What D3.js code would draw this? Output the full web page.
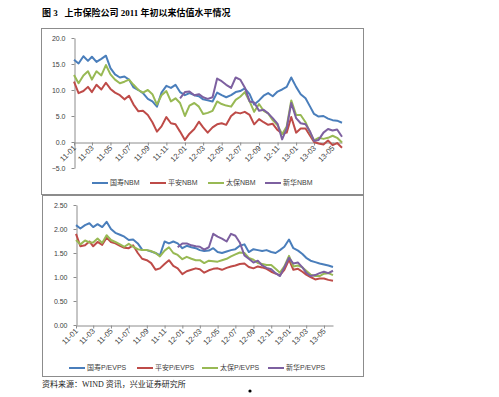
<!DOCTYPE html>
<html>
<head>
<meta charset="utf-8">
<script src="https://cdn.jsdelivr.net/npm/d3@7"></script>
<style>
  body { margin: 0; background: #fff; }
  svg { display: block; }
</style>
</head>
<body>
<svg id="chart" width="499" height="397"></svg>
<script>

// semi-monthly observation dates
const DATES = [
  "2011-01-01","2011-01-16","2011-02-01","2011-02-16","2011-03-01","2011-03-16","2011-04-01","2011-04-16",
  "2011-05-01","2011-05-16","2011-06-01","2011-06-16","2011-07-01","2011-07-16","2011-08-01","2011-08-16",
  "2011-09-01","2011-09-16","2011-10-01","2011-10-16","2011-11-01","2011-11-16","2011-12-01","2011-12-16",
  "2012-01-01","2012-01-16","2012-02-01","2012-02-16","2012-03-01","2012-03-16","2012-04-01","2012-04-16",
  "2012-05-01","2012-05-16","2012-06-01","2012-06-16","2012-07-01","2012-07-16","2012-08-01","2012-08-16",
  "2012-09-01","2012-09-16","2012-10-01","2012-10-16","2012-11-01","2012-11-16","2012-12-01","2012-12-16",
  "2013-01-01","2013-01-16","2013-02-01","2013-02-16","2013-03-01","2013-03-16","2013-04-01","2013-04-16",
  "2013-05-01","2013-05-16","2013-06-01"
];

const NBM_NAMES = ["国寿NBM", "平安NBM", "太保NBM", "新华NBM"];
const PEV_NAMES = ["国寿P/EVPS", "平安P/EVPS", "太保P/EVPS", "新华P/EVPS"];

const NBM_TICKS = [-5, 0, 5, 10, 15, 20];
const PEV_TICKS = [0, 0.5, 1, 1.5, 2, 2.5];

// 新华 listed mid-Dec 2011 -> no values before
const _ = null;

const NBM_GUOSHOU = [15.8,15.1,16.5,15.6,16.4,15.4,16.0,16.6,14.2,13.0,
  12.4,12.6,12.0,10.5,10.0,9.4,8.3,7.8,6.8,9.5,
  10.8,10.4,11.0,9.6,9.0,9.4,9.0,8.8,8.2,8.0,
  7.8,9.5,9.0,8.6,9.0,9.6,9.8,10.3,9.2,7.2,
  8.0,8.9,9.4,8.8,9.7,10.1,10.6,12.4,10.6,9.2,
  8.4,6.8,5.4,4.9,5.0,4.5,4.2,4.1,3.7];
const NBM_PINGAN = [11.6,9.4,9.8,10.6,9.6,11.0,10.1,11.4,10.2,9.5,
  9.0,8.2,8.9,7.2,5.9,6.0,5.2,3.8,2.0,3.0,
  4.8,3.6,3.4,2.0,0.4,1.6,2.5,3.9,2.8,1.8,
  2.8,3.4,3.6,3.3,5.0,5.7,5.5,5.8,5.2,3.4,
  4.4,3.8,3.3,3.5,2.3,1.6,1.8,4.8,1.8,2.6,
  2.6,1.2,0.0,-0.3,-0.5,0.3,-0.6,-0.2,-1.1];
const NBM_TAIBAO = [12.9,11.3,12.8,13.6,12.0,13.6,12.8,14.8,13.0,12.0,
  11.3,11.6,12.0,11.0,10.0,9.5,10.0,9.2,7.2,9.0,
  9.8,7.8,8.4,7.5,5.0,7.0,7.5,6.8,5.4,5.6,
  6.0,7.8,7.3,7.0,6.8,8.1,8.7,9.6,7.8,5.8,
  7.3,6.0,5.5,4.2,3.2,1.5,3.0,8.0,5.2,5.2,
  3.8,1.8,0.3,0.8,0.6,0.8,1.2,0.8,-0.1];
const NBM_XINHUA = [_,_,_,_,_,_,_,_,_,_,
  _,_,_,_,_,_,_,_,_,_,
  _,_,_,8.4,9.6,9.7,9.0,9.2,8.6,8.3,
  8.6,12.2,11.7,11.0,10.4,12.4,12.0,10.5,7.8,7.6,
  6.0,6.2,5.5,4.6,3.5,0.5,2.6,7.5,4.6,3.6,
  3.4,2.0,0.2,0.4,1.8,2.5,2.2,2.4,1.0];

const PEV_GUOSHOU = [2.08,2.01,2.08,2.12,2.04,2.10,2.04,2.15,2.00,1.92,
  1.88,1.84,1.77,1.78,1.70,1.57,1.56,1.53,1.50,1.45,
  1.74,1.70,1.74,1.70,1.60,1.65,1.62,1.60,1.56,1.54,
  1.55,1.60,1.52,1.50,1.53,1.56,1.58,1.65,1.68,1.52,
  1.58,1.56,1.54,1.56,1.52,1.50,1.56,1.63,1.78,1.60,
  1.55,1.48,1.40,1.34,1.31,1.28,1.26,1.24,1.21];
const PEV_PINGAN = [1.90,1.64,1.66,1.74,1.64,1.73,1.67,1.82,1.73,1.70,
  1.65,1.61,1.60,1.66,1.50,1.38,1.35,1.29,1.15,1.18,
  1.27,1.35,1.23,1.18,1.06,1.12,1.15,1.18,1.16,1.09,
  1.14,1.17,1.18,1.15,1.19,1.22,1.24,1.27,1.28,1.21,
  1.18,1.22,1.20,1.17,1.11,1.07,1.04,1.15,1.36,1.15,
  1.17,1.11,1.05,1.00,0.95,0.97,0.97,0.94,0.92];
const PEV_TAIBAO = [1.77,1.68,1.76,1.72,1.72,1.80,1.71,1.87,1.77,1.73,
  1.68,1.63,1.69,1.63,1.58,1.56,1.56,1.54,1.50,1.43,
  1.55,1.62,1.50,1.46,1.37,1.42,1.38,1.35,1.35,1.29,
  1.34,1.33,1.32,1.35,1.38,1.43,1.47,1.51,1.50,1.40,
  1.36,1.29,1.27,1.25,1.25,1.17,1.09,1.22,1.44,1.22,
  1.24,1.20,1.13,1.05,1.02,1.02,1.07,1.08,1.04];
const PEV_XINHUA = [_,_,_,_,_,_,_,_,_,_,
  _,_,_,_,_,_,_,_,_,_,
  _,_,_,1.62,1.70,1.70,1.66,1.64,1.63,1.57,
  1.62,1.90,1.84,1.80,1.74,1.90,1.86,1.72,1.45,1.38,
  1.30,1.34,1.24,1.19,1.16,1.08,1.02,1.20,1.40,1.28,
  1.30,1.20,1.09,1.02,1.04,1.08,1.11,1.08,1.13];

const COLORS = ["#4a7ebb", "#be4b48", "#98b954", "#7d60a0"];

const parseDate = d3.timeParse("%Y-%m-%d");
const svg = d3.select("#chart");

function drawPanel(opt) {
  const dates = DATES.map(parseDate);
  const g = svg.append("g");

  g.append("rect")
    .attr("x", opt.frame[0] + 0.5).attr("y", opt.frame[1] + 0.5)
    .attr("width", opt.frame[2]).attr("height", opt.frame[3])
    .attr("fill", "none").attr("stroke", "#8c8c8c");

  const x = d3.scaleTime()
    .domain([dates[0], dates[dates.length - 1]])
    .range(opt.xRange);
  const y = d3.scaleLinear()
    .domain(d3.extent(opt.yTicks))
    .range(opt.yRange);

  const yAxis = g.append("g")
    .attr("transform", `translate(${opt.xRange[0] + 0.5},0)`)
    .call(d3.axisLeft(y).tickValues(opt.yTicks).tickFormat(d3.format(opt.fmt))
      .tickSize(3).tickSizeOuter(0).tickPadding(6));

  const xAxis = g.append("g")
    .attr("transform", `translate(0,${Math.round(y(0)) + 0.5})`)
    .call(d3.axisBottom(x).ticks(d3.timeMonth.every(2)).tickFormat(d3.timeFormat("%y-%m"))
      .tickSize(3).tickSizeOuter(0));

  [yAxis, xAxis].forEach(a => {
    a.select(".domain").attr("stroke", "#8c8c8c");
    a.selectAll(".tick line").attr("stroke", "#8c8c8c");
    a.selectAll("text").attr("fill", "#404040")
      .style("font", "7px 'Liberation Sans', Arial, sans-serif");
  });

  // rotated month labels, a bit larger like the original
  xAxis.selectAll("text")
    .attr("x", -3).attr("y", 3).attr("dy", "0.35em")
    .attr("text-anchor", "end")
    .attr("transform", "rotate(-45)")
    .style("font-size", "7.6px");

  const line = d3.line()
    .defined(d => d[1] != null)
    .x(d => x(d[0]))
    .y(d => y(d[1]));

  opt.series.forEach((s, k) => {
    g.append("path")
      .datum(s.map((v, i) => [dates[i], v]))
      .attr("fill", "none")
      .attr("stroke", COLORS[k])
      .attr("stroke-width", 2)
      .attr("stroke-linejoin", "round")
      .attr("d", line);
  });

  // legend
  const lg = g.append("g").attr("transform", `translate(0,${opt.legendY})`);
  opt.names.forEach((name, k) => {
    const x0 = opt.legendX[k];
    lg.append("line")
      .attr("x1", x0).attr("x2", x0 + 16)
      .attr("stroke", COLORS[k]).attr("stroke-width", 2);
    lg.append("text")
      .attr("x", x0 + 18).attr("dy", "0.35em")
      .attr("fill", "#404040")
      .style("font", "7px 'Liberation Sans', 'Noto Sans CJK SC', sans-serif")
      .text(name);
  });
}

drawPanel({
  frame: [41, 28, 322, 166],
  xRange: [74, 342],
  yRange: [168, 38],
  yTicks: NBM_TICKS,
  fmt: ".1f",
  series: [NBM_GUOSHOU, NBM_PINGAN, NBM_TAIBAO, NBM_XINHUA],
  names: NBM_NAMES,
  legendX: [92, 150, 208, 265],
  legendY: 183
});

drawPanel({
  frame: [42, 195, 321, 181],
  xRange: [76, 333],
  yRange: [325, 205],
  yTicks: PEV_TICKS,
  fmt: ".2f",
  series: [PEV_GUOSHOU, PEV_PINGAN, PEV_TAIBAO, PEV_XINHUA],
  names: PEV_NAMES,
  legendX: [69, 137, 202, 268],
  legendY: 368
});

// title and source
svg.append("text")
  .attr("x", 42).attr("y", 16)
  .attr("fill", "#000")
  .style("font", "bold 9px 'Liberation Serif', 'Noto Sans CJK SC', serif")
  .attr("xml:space", "preserve")
  .text("图 3   上市保险公司 2011 年初以来估值水平情况");

svg.append("text")
  .attr("x", 42).attr("y", 387)
  .attr("fill", "#222")
  .style("font", "8px 'Liberation Serif', 'Noto Sans CJK SC', serif")
  .text("资料来源：WIND 资讯，兴业证券研究所");

svg.append("circle")
  .attr("cx", 250).attr("cy", 391).attr("r", 1.6)
  .attr("fill", "#000");

</script>
</body>
</html>
